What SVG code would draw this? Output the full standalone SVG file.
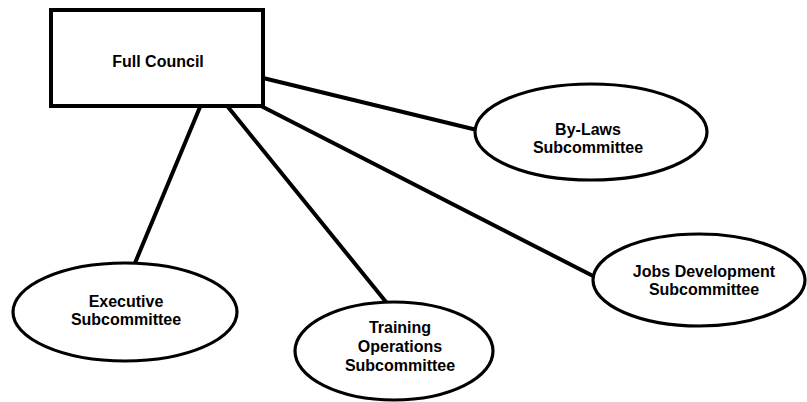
<svg xmlns="http://www.w3.org/2000/svg" width="807" height="402" viewBox="0 0 807 402">
  <style>
    .box { fill: #fff; stroke: #000; stroke-width: 4; }
    .oval { fill: #fff; stroke: #000; stroke-width: 3.2; }
    .link { stroke: #000; stroke-width: 4; stroke-linecap: round; fill: none; }
    .lbl { font-family: "Liberation Sans", Arial, sans-serif; font-weight: bold; font-size: 16px; fill: #000; text-anchor: middle; }
  </style>
  <rect width="807" height="402" fill="#fff"/>

  <!-- connectors from the council box to each subcommittee -->
  <g id="connectors">
    <line class="link" x1="263" y1="78" x2="477" y2="130"/>
    <line class="link" x1="263" y1="107" x2="595" y2="277"/>
    <line class="link" x1="228" y1="107" x2="386" y2="302"/>
    <line class="link" x1="200" y1="107" x2="135" y2="263"/>
  </g>

  <g id="full-council">
    <rect class="box" x="51" y="10" width="212" height="96"/>
    <text class="lbl" x="158" y="67">Full Council</text>
  </g>

  <g id="bylaws">
    <ellipse class="oval" cx="591" cy="132" rx="116" ry="48"/>
    <text class="lbl" x="588" y="135">By-Laws</text>
    <text class="lbl" x="588" y="153">Subcommittee</text>
  </g>

  <g id="jobs">
    <ellipse class="oval" cx="699" cy="280" rx="106" ry="46"/>
    <text class="lbl" x="704" y="277">Jobs Development</text>
    <text class="lbl" x="704" y="295">Subcommittee</text>
  </g>

  <g id="executive">
    <ellipse class="oval" cx="125" cy="312" rx="112" ry="49"/>
    <text class="lbl" x="126" y="307">Executive</text>
    <text class="lbl" x="126" y="325">Subcommittee</text>
  </g>

  <g id="training">
    <ellipse class="oval" cx="394" cy="351" rx="99" ry="49"/>
    <text class="lbl" x="400" y="333">Training</text>
    <text class="lbl" x="400" y="352">Operations</text>
    <text class="lbl" x="400" y="371">Subcommittee</text>
  </g>
</svg>
